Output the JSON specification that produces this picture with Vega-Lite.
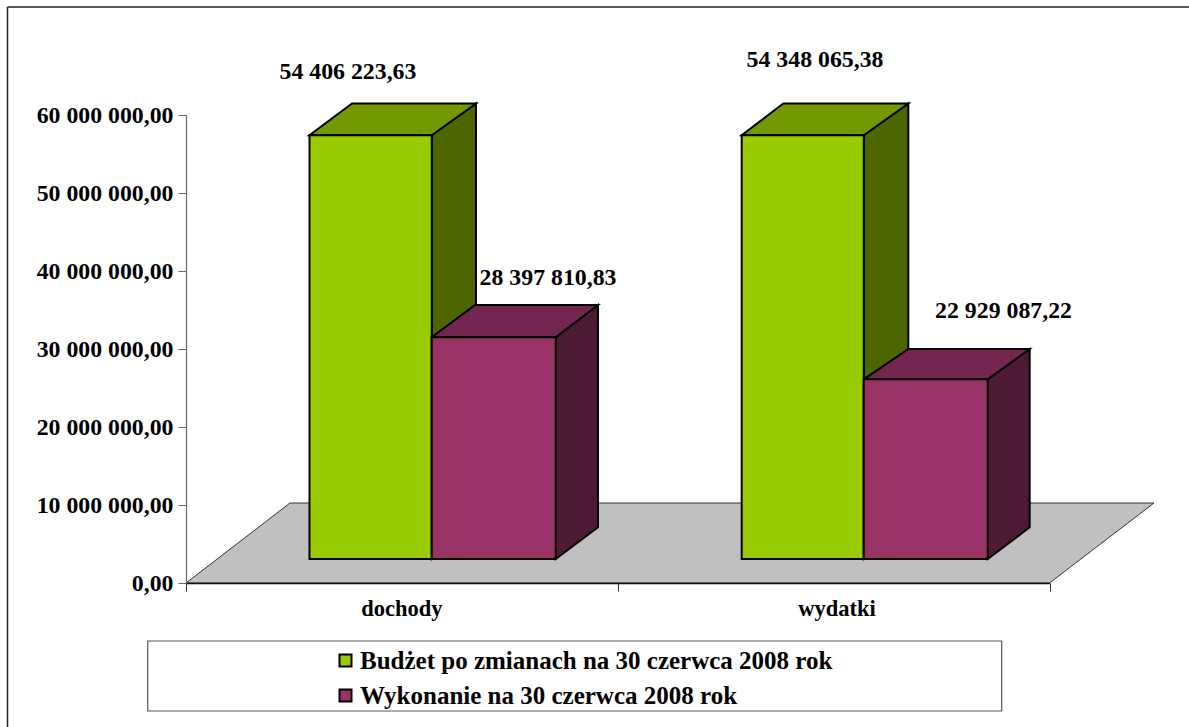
{
"$schema":"https://vega.github.io/schema/vega-lite/v6.json",
"width":863.5,"height":468,
"autosize":{"type":"none"},
"padding":{"left":186,"top":115,"right":139.5,"bottom":144},
"background":"#ffffff",
"config":{"view":{"stroke":null},"font":"Liberation Serif"},
"datasets":{
"frameTop":[{"x":-0.4134,"x2":2.325,"y":73850000}],
"frameLeft":[{"x":-0.4134,"y":73850000,"y2":-18500000}],
"floor":[{"y":0,"x":0,"x2":2},{"y":10256000,"x":0.2409,"x2":2.242}],
"sides":[
{"id":"a","c":"#4d6600","x":0.5691,"y":57397000,"y2":3077000},{"id":"a","c":"#4d6600","x":0.6717,"y":61474000,"y2":7141000},
{"id":"b","c":"#4d1a33","x":0.8563,"y":31500000,"y2":3077000},{"id":"b","c":"#4d1a33","x":0.9542,"y":35641000,"y2":7141000},
{"id":"c","c":"#4d6600","x":1.5697,"y":57397000,"y2":3077000},{"id":"c","c":"#4d6600","x":1.673,"y":61474000,"y2":7141000},
{"id":"d","c":"#4d1a33","x":1.8569,"y":26115000,"y2":3077000},{"id":"d","c":"#4d1a33","x":1.9541,"y":30000000,"y2":7141000}],
"tops":[
{"id":"a","c":"#739900","y":57397000,"x":0.286,"x2":0.5691},{"id":"a","c":"#739900","y":61474000,"x":0.3845,"x2":0.6717},
{"id":"b","c":"#732650","y":31500000,"x":0.5691,"x2":0.8563},{"id":"b","c":"#732650","y":35641000,"x":0.6694,"x2":0.9542},
{"id":"c","c":"#739900","y":57397000,"x":1.2871,"x2":1.5697},{"id":"c","c":"#739900","y":61474000,"x":1.3834,"x2":1.673},
{"id":"d","c":"#732650","y":26115000,"x":1.5697,"x2":1.8569},{"id":"d","c":"#732650","y":30000000,"x":1.673,"x2":1.9541}],
"bars":[
{"category":"dochody","series":"Budżet po zmianach na 30 czerwca 2008 rok","value":54406223.63,"x":0.286,"x2":0.5691,"top":57397000,"base":3077000},
{"category":"dochody","series":"Wykonanie na 30 czerwca 2008 rok","value":28397810.83,"x":0.5691,"x2":0.8563,"top":31500000,"base":3077000},
{"category":"wydatki","series":"Budżet po zmianach na 30 czerwca 2008 rok","value":54348065.38,"x":1.2871,"x2":1.5697,"top":57397000,"base":3077000},
{"category":"wydatki","series":"Wykonanie na 30 czerwca 2008 rok","value":22929087.22,"x":1.5697,"x2":1.8569,"top":26115000,"base":3077000}],
"labels":[
{"label":"54 406 223,63","x":0.3752,"y":65510000},
{"label":"28 397 810,83","x":0.8385,"y":39100000},
{"label":"54 348 065,38","x":1.4569,"y":67050000},
{"label":"22 929 087,22","x":1.8935,"y":34870000}],
"cats":[{"category":"dochody","x":0.5,"y":-3330000},{"category":"wydatki","x":1.508,"y":-3330000}],
"legendBox":[{"x":-0.0887,"x2":1.8893,"y":-7436000,"y2":-16410000}]
},
"layer":[
{"data":{"name":"frameTop"},"mark":{"type":"rule","stroke":"#222222","strokeWidth":1.5},
 "encoding":{"x":{"field":"x","type":"quantitative","scale":{"domain":[0,2],"nice":false,"zero":false},
   "axis":{"values":[0,1,2],"labels":false,"title":null,"grid":false,"tickSize":8,"tickColor":"#333333","domainColor":"#111111","domainWidth":1.5,"zindex":1}},
  "x2":{"field":"x2"},
  "y":{"field":"y","type":"quantitative","scale":{"domain":[0,60000000],"nice":false},
   "axis":{"values":[0,10000000,20000000,30000000,40000000,50000000,60000000],"title":null,"grid":false,"tickSize":8,"tickColor":"#666666","domainColor":"#666666","domainWidth":1.2,"labelPadding":5,"labelFont":"Liberation Serif","labelFontWeight":"bold","labelFontSize":23.8,"labelColor":"#000000","labelLimit":300,"zindex":1,
    "labelExpr":"replace(replace(format(datum.value,',.2f'),/,/g,' '),'.',',')"}}}},
{"data":{"name":"frameLeft"},"mark":{"type":"rule","stroke":"#222222","strokeWidth":1.5},
 "encoding":{"x":{"field":"x","type":"quantitative"},"y":{"field":"y","type":"quantitative"},"y2":{"field":"y2"}}},
{"data":{"name":"floor"},"mark":{"type":"area","orient":"horizontal","fill":"#c0c0c0","stroke":"#333333","strokeWidth":1},
 "encoding":{"y":{"field":"y","type":"quantitative"},"x":{"field":"x","type":"quantitative"},"x2":{"field":"x2"}}},
{"data":{"name":"sides"},"mark":{"type":"area","stroke":"#000000","strokeWidth":2},
 "encoding":{"detail":{"field":"id"},"fill":{"field":"c","type":"nominal","scale":null},"x":{"field":"x","type":"quantitative"},"y":{"field":"y","type":"quantitative"},"y2":{"field":"y2"}}},
{"data":{"name":"tops"},"mark":{"type":"area","orient":"horizontal","stroke":"#000000","strokeWidth":2},
 "encoding":{"detail":{"field":"id"},"fill":{"field":"c","type":"nominal","scale":null},"y":{"field":"y","type":"quantitative"},"x":{"field":"x","type":"quantitative"},"x2":{"field":"x2"}}},
{"data":{"name":"legendBox"},"mark":{"type":"rect","fill":"#ffffff","stroke":"#555555","strokeWidth":1.2},
 "encoding":{"x":{"field":"x","type":"quantitative"},"x2":{"field":"x2"},"y":{"field":"y","type":"quantitative"},"y2":{"field":"y2"}}},
{"data":{"name":"bars"},"mark":{"type":"rect","stroke":"#000000","strokeWidth":2},
 "encoding":{"x":{"field":"x","type":"quantitative"},"x2":{"field":"x2"},"y":{"field":"top","type":"quantitative"},"y2":{"field":"base"},
  "fill":{"field":"series","type":"nominal","scale":{"domain":["Budżet po zmianach na 30 czerwca 2008 rok","Wykonanie na 30 czerwca 2008 rok"],"range":["#99cc00","#993366"]},
   "legend":{"orient":"none","legendX":147,"legendY":533,"title":null,"symbolType":"square","symbolSize":144,"symbolStrokeColor":"#000000","symbolStrokeWidth":2,"labelFont":"Liberation Serif","labelFontWeight":"bold","labelFontSize":25,"labelColor":"#000000","labelLimit":700,"rowPadding":9,"labelOffset":2,"padding":0}}}},
{"data":{"name":"labels"},"mark":{"type":"text","font":"Liberation Serif","fontWeight":"bold","fontSize":23.8,"color":"#000000","align":"center","baseline":"middle"},
 "encoding":{"x":{"field":"x","type":"quantitative"},"y":{"field":"y","type":"quantitative"},"text":{"field":"label"}}},
{"data":{"name":"cats"},"mark":{"type":"text","font":"Liberation Serif","fontWeight":"bold","fontSize":22.5,"color":"#000000","align":"center","baseline":"middle"},
 "encoding":{"x":{"field":"x","type":"quantitative"},"y":{"field":"y","type":"quantitative"},"text":{"field":"category"}}}
]
}
